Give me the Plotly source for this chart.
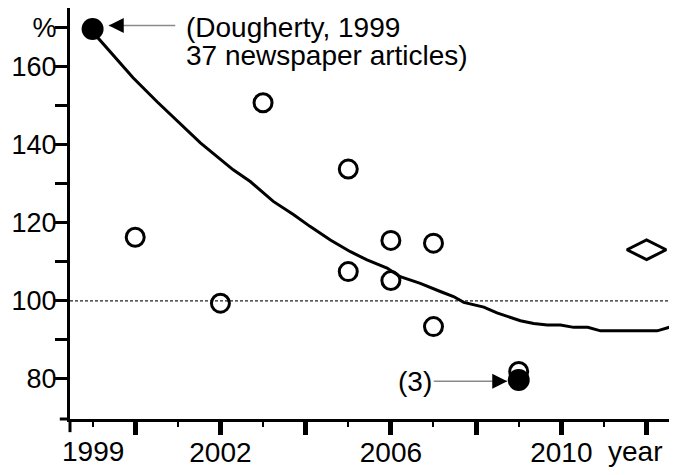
import plotly.graph_objects as go

# trend line (year, %)
trend_year = [1999.0, 1999.13, 1999.95, 2000.52, 2001.53, 2002.30, 2002.70, 2003.24,
              2003.72, 2004.10, 2004.58, 2005.05, 2005.44, 2005.91, 2006.22, 2006.69,
              2007.16, 2007.47, 2007.71, 2008.18, 2008.49, 2008.73, 2009.04, 2009.35,
              2009.67, 2009.98, 2010.29, 2010.62, 2010.92, 2012.25, 2012.56]
trend_pct = [170.0, 167.4, 157.2, 151.0, 140.5, 133.6, 130.6, 125.5,
             122.1, 119.1, 115.6, 112.6, 110.5, 108.4, 106.2, 104.5,
             102.4, 101.1, 99.6, 98.4, 96.9, 96.0, 94.9, 94.2,
             93.8, 93.8, 93.2, 93.2, 92.3, 92.3, 93.3]

# single studies (open circles)
study_year = [2000, 2002, 2003, 2005, 2005, 2006, 2006, 2007, 2007, 2009]
study_pct = [116.3, 99.4, 150.8, 133.8, 107.5, 115.5, 105.2, 114.8, 93.4, 81.9]

# highlighted studies (filled circles)
key_year = [1999, 2009]
key_pct = [169.7, 79.7]

# diamond
diamond_year = [2012]
diamond_pct = [113.1]

major_years = [2000, 2002, 2004, 2006, 2008, 2010, 2012]
major_labels = ["", "2002", "", "2006", "", "2010", ""]
minor_years = [1999, 2001, 2003, 2005, 2007, 2009, 2011]

y_vals = [80, 90, 100, 110, 120, 130, 140, 150, 160, 170]
y_labels = ["80", "", "100", "", "120", "", "140", "", "160", "%"]

FONT = "Liberation Sans, Arial, sans-serif"

fig = go.Figure()

fig.add_trace(go.Scatter(x=trend_year, y=trend_pct, mode="lines",
                         line=dict(color="black", width=3), hoverinfo="skip"))
fig.add_trace(go.Scatter(x=study_year, y=study_pct, mode="markers",
                         marker=dict(symbol="circle-open", size=18, color="black",
                                     line=dict(width=3, color="black"))))
fig.add_trace(go.Scatter(x=key_year, y=key_pct, mode="markers",
                         marker=dict(symbol="circle", size=22, color="black")))
fig.add_trace(go.Scatter(x=diamond_year, y=diamond_pct, mode="markers",
                         marker=dict(symbol="diamond-wide-open", size=28, color="black",
                                     line=dict(width=3, color="black"))))

# dashed 100% reference
fig.add_shape(type="line", xref="paper", x0=0, x1=1, yref="y", y0=100, y1=100,
              line=dict(color="#222222", width=1.3, dash="3px,2px"), layer="below")
# axis lines run slightly past the corner
fig.add_shape(type="line", xref="paper", yref="paper", x0=0, x1=0, y0=0, y1=-0.032,
              line=dict(color="black", width=3))
fig.add_shape(type="line", xref="paper", yref="paper", x0=-0.017, x1=0, y0=0, y1=0,
              line=dict(color="black", width=3))

txt = dict(family=FONT, size=28, color="black")

# Dougherty note
fig.add_annotation(x=2001.15, y=170.0, text="(Dougherty, 1999", showarrow=False,
                   xanchor="left", yanchor="middle", font=txt)
fig.add_annotation(x=2001.15, y=162.9, text="37 newspaper articles)", showarrow=False,
                   xanchor="left", yanchor="middle", font=txt)
fig.add_annotation(x=1999.38, y=170.6, text="", showarrow=True, ax=68, ay=0,
                   arrowhead=0, arrowwidth=1.5, arrowcolor="#8a8a8a")
fig.add_annotation(x=1999.38, y=170.6, text="", showarrow=True, ax=10, ay=0,
                   arrowhead=2, arrowsize=1.5, arrowwidth=2, arrowcolor="black")

# (3) note
fig.add_annotation(x=2008.73, y=79.4, text="(3)", showarrow=True, ax=-92, ay=0,
                   arrowhead=0, arrowwidth=1.5, arrowcolor="#8a8a8a", font=txt)
fig.add_annotation(x=2008.73, y=79.4, text="", showarrow=True, ax=-10, ay=0,
                   arrowhead=2, arrowsize=1.5, arrowwidth=2, arrowcolor="black")

# extra x labels
fig.add_annotation(x=1999, xref="x", y=0, yref="paper", yanchor="top", yshift=-15,
                   text="1999", showarrow=False, font=txt)
fig.add_annotation(x=2011.73, xref="x", y=0, yref="paper", yanchor="top", yshift=-15,
                   text="year", showarrow=False, font=txt)

# page body adds an 8px offset, so the figure is 8px smaller and shifted margins
fig.update_layout(
    width=669, height=467,
    margin=dict(l=62, r=7, t=0, b=56, autoexpand=False),
    paper_bgcolor="white", plot_bgcolor="white",
    showlegend=False,
    font=txt,
    xaxis=dict(range=[1998.47, 2012.55], showline=True, linewidth=3, linecolor="black",
               ticks="outside", ticklen=13, tickwidth=5, tickcolor="black",
               tickmode="array", tickvals=major_years, ticktext=major_labels,
               minor=dict(tickmode="array", tickvals=minor_years, ticks="outside",
                          ticklen=5, tickwidth=2, tickcolor="black"),
               ticklabelstandoff=-7,
               showgrid=False, zeroline=False, tickfont=txt, automargin=False),
    yaxis=dict(range=[69.7, 175.1], showline=True, linewidth=3, linecolor="black",
               ticks="outside", ticklen=12, tickwidth=2.5, tickcolor="black",
               tickmode="array", tickvals=y_vals, ticktext=y_labels,
               ticklabelstandoff=-7,
               showgrid=False, zeroline=False, automargin=False,
               tickfont=dict(family=FONT, size=27, color="black")),
)

fig.write_html("out.html")
